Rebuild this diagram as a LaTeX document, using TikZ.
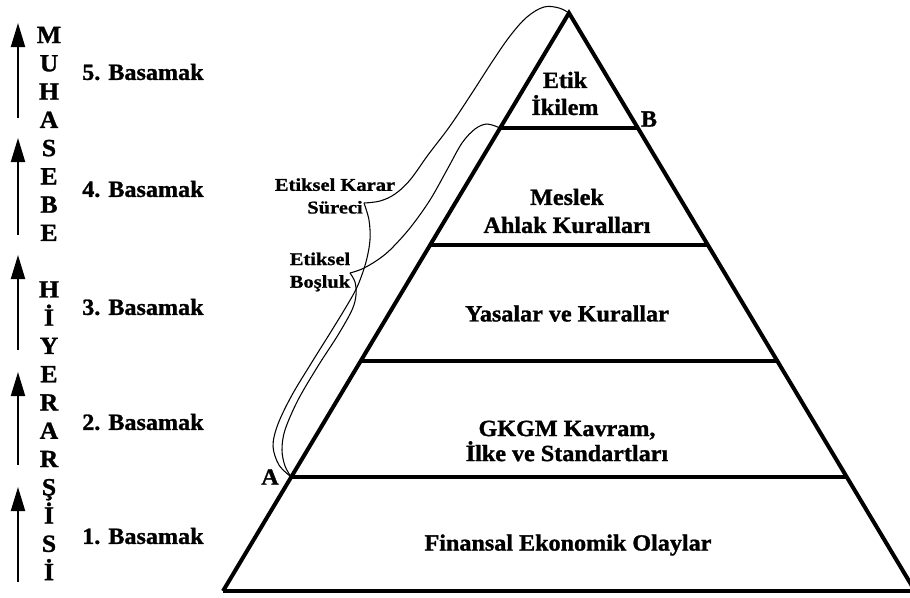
\documentclass[tikz,border=0pt]{standalone}
\usepackage{fontspec}
\setmainfont{Liberation Serif}
\newfontfamily\kalin{Liberation Serif Bold}[FakeStretch=1.04,FakeBold=1.2]
\newfontfamily\genisyazi{Liberation Serif Bold}[FakeStretch=1.14,FakeBold=1]
\usetikzlibrary{arrows.meta,calc}

\begin{document}
\begin{tikzpicture}[x=0.75pt,y=-0.75pt,
		kenar/.style={line width=3pt},
		kat/.style={line width=2.6pt},
		ince/.style={line width=0.8pt},
		ok/.style={line width=1.5pt,-{Triangle[length=18pt,width=10.5pt]}},
		yazi/.style={font=\kalin\fontsize{17.4}{20.25}\selectfont,align=center,inner sep=0pt},
		kucukyazi/.style={font=\genisyazi\fontsize{13.5}{17}\selectfont,align=center,inner sep=0pt}]
			\useasboundingbox (0,0) rectangle (910,597);
			\pgfmathsetmacro{\OkX}{18}
			\pgfmathsetmacro{\BasamakX}{82}
			\pgfmathsetmacro{\OrtaX}{567}
			\coordinate(Tepe) at (569,13);
			\coordinate(SolAlt) at (223,591);
			\coordinate(SagAlt) at (915,591);
			\coordinate(B) at ($(SolAlt)!0.801!(Tepe)$);
			\coordinate(B2) at ($(SagAlt)!0.801!(Tepe)$);
			\coordinate(M1) at ($(SolAlt)!0.5986!(Tepe)$);
			\coordinate(M2) at ($(SagAlt)!0.5986!(Tepe)$);
			\coordinate(Y1) at ($(SolAlt)!0.3979!(Tepe)$);
			\coordinate(Y2) at ($(SagAlt)!0.3979!(Tepe)$);
			\coordinate(A) at ($(SolAlt)!0.1972!(Tepe)$);
			\coordinate(A2) at ($(SagAlt)!0.1972!(Tepe)$);
			\coordinate(KararUc) at (364,203);
			\coordinate(BoslukUc) at (350,273);
			
			\draw[kenar] (SolAlt) -- (Tepe) -- (SagAlt);
			\draw[kenar] (SolAlt) -- (SagAlt);
			\draw[kat] (B) -- (B2);
			\draw[kat] (M1) -- (M2);
			\draw[kat] (Y1) -- (Y2);
			\draw[kat] (A) -- (A2);
			\draw[line width=1.5pt, dash pattern=on 1.5pt off 7.3pt] (A) -- (B);
			
			\draw[ince] plot[smooth, tension=0.6] coordinates {(KararUc) (380,201) (395,194) (410,180) (428,155) (450,126) (472,93) (492,62) (510,36) (527,17) (544,7) (559,8) (Tepe)};
			\draw[ince] plot[smooth, tension=0.55] coordinates {(KararUc) (369,220) (370,240) (366,262) (358,285) (349,302) (332,330) (312,362) (292,395) (278,424) (273,446) (279,465) (A)};
			\draw[ince] plot[smooth, tension=0.55] coordinates {(BoslukUc) (362,269) (376,261) (390,250) (410,228) (430,200) (448,168) (462,143) (475,129) (487,124) (B)};
			\draw[ince] plot[smooth, tension=0.55] coordinates {(BoslukUc) (355,282) (356,295) (352,310) (338,335) (318,366) (298,400) (285,430) (282,450) (285,466) (A)};
			
			\node[yazi] (etik) at (565,93.5) {Etik\\İkilem};
			\node[yazi,font=\kalin\fontsize{17.4}{21}\selectfont] (meslek) at (\OrtaX,211) {Meslek\\Ahlak Kuralları};
			\node[yazi] (yasalar) at (\OrtaX,313.5) {Yasalar ve Kurallar};
			\node[yazi,font=\kalin\fontsize{17.4}{18.75}\selectfont] (gkgm) at (\OrtaX,441) {GKGM Kavram,\\İlke ve Standartları};
			\node[yazi] (finansal) at (568,545) {Finansal Ekonomik Olaylar};
			\node[yazi] (harfA) at (270,477) {A};
			\node[yazi] (harfB) at (649,119) {B};
			
			\node[kucukyazi] (karar) at (335,196) {Etiksel Karar\\Süreci};
			\node[kucukyazi] (bosluk) at (320,272) {Etiksel\\Boşluk};
			
			\node[yazi,anchor=west] (bas5) at (\BasamakX,72) {5. Basamak};
			\node[yazi,anchor=west] (bas4) at (\BasamakX,189) {4. Basamak};
			\node[yazi,anchor=west] (bas3) at (\BasamakX,307) {3. Basamak};
			\node[yazi,anchor=west] (bas2) at (\BasamakX,422) {2. Basamak};
			\node[yazi,anchor=west] (bas1) at (\BasamakX,536) {1. Basamak};
			
			\node[yazi,font=\kalin\fontsize{18.5}{21.2}\selectfont] (hiyerarsi) at (49,303.5) {M\\U\\H\\A\\S\\E\\B\\E\\[21.2pt]H\\İ\\Y\\E\\R\\A\\R\\Ş\\İ\\S\\İ};
			
			\draw[ok] (\OkX,118) -- (\OkX,23);
			\draw[ok] (\OkX,235) -- (\OkX,138);
			\draw[ok] (\OkX,350) -- (\OkX,255);
			\draw[ok] (\OkX,465) -- (\OkX,372);
			\draw[ok] (\OkX,582) -- (\OkX,487);
		\end{tikzpicture}
\end{document}
